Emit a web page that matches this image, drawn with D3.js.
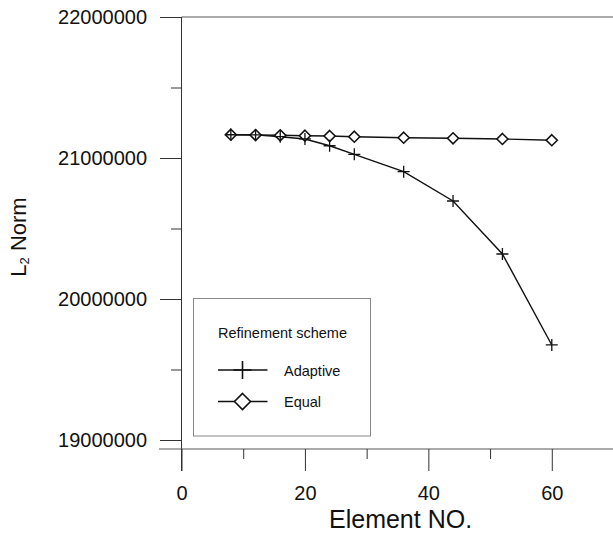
<!DOCTYPE html>
<html>
<head>
<meta charset="utf-8">
<script src="https://cdn.jsdelivr.net/npm/d3@7"></script>
<style>
  html, body { margin: 0; padding: 0; background: #fff; }
  svg { display: block; font-family: "Liberation Sans", Arial, sans-serif; }
</style>
</head>
<body>
<svg id="chart" width="613" height="533"></svg>
<script>
const elements = [8, 12, 16, 20, 24, 28, 36, 44, 52, 60];
const adaptive = [21165000, 21164000, 21151000, 21135000, 21087000, 21026000, 20903000, 20695000, 20319000, 19674000];
const equal = [21165000, 21163000, 21161000, 21158000, 21156000, 21151000, 21144000, 21140000, 21135000, 21126000];
const xTicks = [0, 20, 40, 60];
const xMinorTicks = [10, 30, 50];
const yTicks = [19000000, 20000000, 21000000, 22000000];
const yMinorTicks = [19500000, 20500000, 21500000];
const seriesNames = ["Adaptive", "Equal"];
const legendTitle = "Refinement scheme";
const xTitle = "Element NO.";

const svg = d3.select("#chart");
const x = d3.scaleLinear().domain([0, 70]).range([181.5, 613.5]);
const y = d3.scaleLinear().domain([19000000, 22000000]).range([440, 17]);
const axisColor = "#333";

// frame lines
svg.append("line").attr("x1", x(0)).attr("x2", 613).attr("y1", 17).attr("y2", 17)
  .attr("stroke", "#555").attr("stroke-width", 1);
svg.append("line").attr("x1", x(0)).attr("x2", x(0)).attr("y1", 17).attr("y2", 471)
  .attr("stroke", axisColor).attr("stroke-width", 1);
svg.append("line").attr("x1", 159).attr("x2", 613).attr("y1", 449).attr("y2", 449)
  .attr("stroke", "#555").attr("stroke-width", 1);

// y axis
const yAxis = svg.append("g").attr("transform", `translate(${x(0)},0)`)
  .call(d3.axisLeft(y).tickValues(yTicks).tickSize(21.5).tickPadding(13).tickFormat(d3.format("d")));
yAxis.select(".domain").remove();
yAxis.selectAll(".tick line").attr("stroke", axisColor);
yAxis.selectAll(".tick text").attr("font-size", 20).attr("fill", "#111")
  .attr("font-family", "Liberation Sans, Arial, sans-serif");
const yMinor = svg.append("g").attr("transform", `translate(${x(0)},0)`)
  .call(d3.axisLeft(y).tickValues(yMinorTicks).tickSize(10.5).tickFormat(""));
yMinor.select(".domain").remove();
yMinor.selectAll(".tick line").attr("stroke", axisColor);

// x axis
const xAxis = svg.append("g").attr("transform", "translate(0,449)")
  .call(d3.axisBottom(x).tickValues(xTicks).tickSize(22).tickPadding(15).tickFormat(d3.format("d")));
xAxis.select(".domain").remove();
xAxis.selectAll(".tick line").attr("stroke", axisColor);
xAxis.selectAll(".tick text").attr("font-size", 20).attr("fill", "#111")
  .attr("font-family", "Liberation Sans, Arial, sans-serif");
const xMinor = svg.append("g").attr("transform", "translate(0,449)")
  .call(d3.axisBottom(x).tickValues(xMinorTicks).tickSize(10).tickFormat(""));
xMinor.select(".domain").remove();
xMinor.selectAll(".tick line").attr("stroke", axisColor);

// titles
svg.append("text").attr("x", 329).attr("y", 527.5).attr("text-anchor", "start")
  .attr("font-size", 25).attr("fill", "#111").text(xTitle);
const yt = svg.append("text").attr("transform", "translate(26,237) rotate(-90)")
  .attr("text-anchor", "middle").attr("font-size", 22).attr("fill", "#111");
yt.append("tspan").text("L");
yt.append("tspan").attr("font-size", 13).attr("dy", 3).text("2");
yt.append("tspan").attr("dy", -3).text(" Norm");

// series
const line = d3.line().x(d => x(d[0])).y(d => y(d[1]));
const adaptiveData = elements.map((e, i) => [e, adaptive[i]]);
const equalData = elements.map((e, i) => [e, equal[i]]);

svg.append("path").datum(equalData).attr("d", line)
  .attr("fill", "none").attr("stroke", "#111").attr("stroke-width", 1.4);
svg.append("path").datum(adaptiveData).attr("d", line)
  .attr("fill", "none").attr("stroke", "#111").attr("stroke-width", 1.4);

function plus(g, cx, cy, s, w) {
  g.append("path").attr("d", `M${cx - s},${cy}H${cx + s}M${cx},${cy - s}V${cy + s}`)
    .attr("stroke", "#111").attr("stroke-width", w).attr("fill", "none");
}
function diamond(g, cx, cy, s, w) {
  g.append("path").attr("d", `M${cx},${cy - s}L${cx + s},${cy}L${cx},${cy + s}L${cx - s},${cy}Z`)
    .attr("stroke", "#111").attr("stroke-width", w).attr("fill", "#fff");
}
const mk = svg.append("g");
equalData.forEach(d => diamond(mk, x(d[0]), y(d[1]), 5.5, 1.6));
adaptiveData.forEach(d => plus(mk, x(d[0]), y(d[1]), 6, 1.3));

// legend
const lg = svg.append("g");
lg.append("rect").attr("x", 193.5).attr("y", 298.5).attr("width", 177).attr("height", 137.5)
  .attr("fill", "#fff").attr("stroke", "#888").attr("stroke-width", 1);
lg.append("text").attr("x", 218).attr("y", 338).attr("font-size", 14.5).attr("fill", "#111").text(legendTitle);
const legY = [370, 401.5];
seriesNames.forEach((n, i) => {
  lg.append("line").attr("x1", 218).attr("x2", 267.5).attr("y1", legY[i]).attr("y2", legY[i])
    .attr("stroke", "#111").attr("stroke-width", 1.3);
  if (i === 0) plus(lg, 242.5, legY[i], 9, 1.6);
  else diamond(lg, 242.5, legY[i], 8, 1.6);
  lg.append("text").attr("x", 284).attr("y", legY[i] + 5.5).attr("font-size", 14.5).attr("fill", "#111").text(n);
});
</script>
</body>
</html>
